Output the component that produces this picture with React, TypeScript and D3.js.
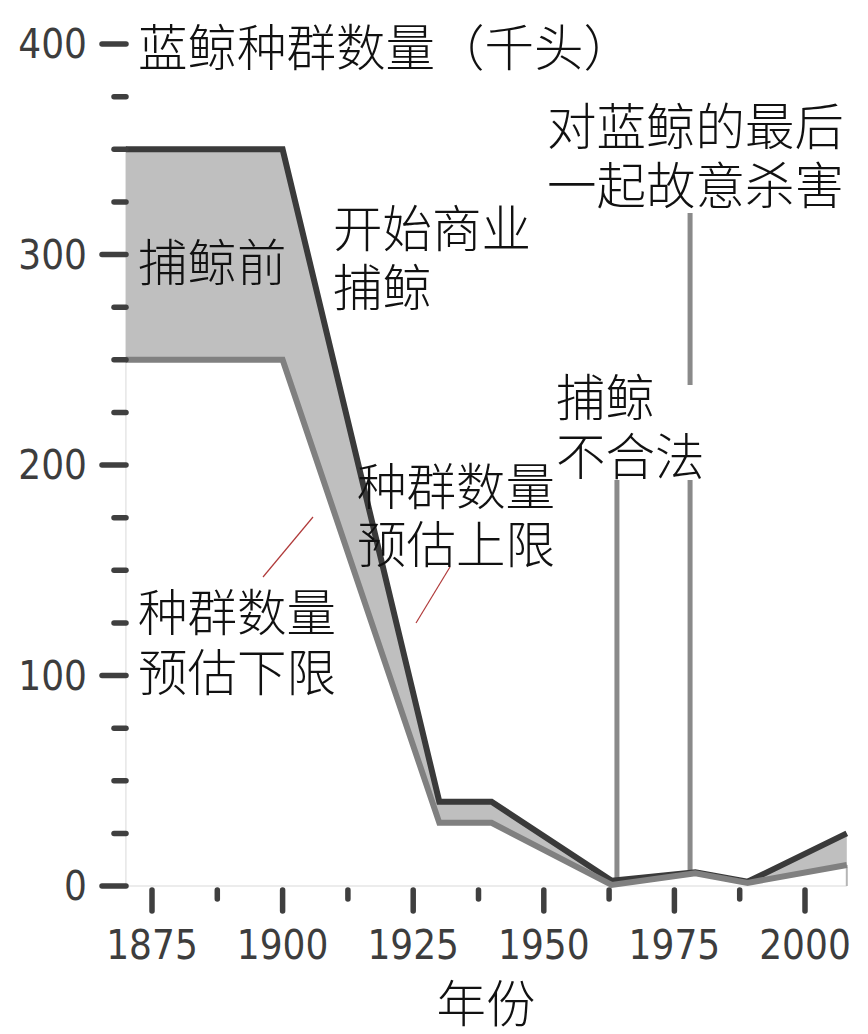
import React from "react";
import * as d3 from "d3";

const upperYears = [1870, 1900, 1930, 1940, 1963, 1979, 1989, 2008];
const upperValues = [350, 350, 40, 40, 2.5, 6.5, 2, 25];
const lowerYears = [1870, 1900, 1930, 1940, 1963, 1979, 1989, 2008];
const lowerValues = [250, 250, 30, 30, 0.5, 6, 1.5, 10];
const majorYTicks = [0, 100, 200, 300, 400];
const minorYTicks = [25, 50, 75, 125, 150, 175, 225, 250, 275, 325, 350, 375];
const majorXTicks = [1875, 1900, 1925, 1950, 1975, 2000];
const minorXTicks = [1887.5, 1912.5, 1937.5, 1962.5, 1987.5];
const eventYears = [1964, 1978];

const W = 868;
const H = 1034;

export default function App() {
  const x = d3.scaleLinear().domain([1875, 2000]).range([152, 805]);
  const y = d3.scaleLinear().domain([0, 400]).range([886, 44]);

  const pts = upperYears.map((yr, i) => ({ yr, hi: upperValues[i], lo: lowerValues[i] }));
  const area = d3
    .area<any>()
    .x((d) => x(d.yr))
    .y0((d) => y(d.lo))
    .y1((d) => y(d.hi))(pts) as string;
  const upperLine = d3
    .line<number>()
    .x((_, i) => x(upperYears[i]))
    .y((d) => y(d))(upperValues) as string;
  const lowerLine = d3
    .line<number>()
    .x((_, i) => x(lowerYears[i]))
    .y((d) => y(d))(lowerValues) as string;

  const x0 = x(upperYears[0]);
  const xEnd = x(upperYears[upperYears.length - 1]);
  const cjk = "'Noto Sans CJK SC', 'Noto Sans', sans-serif";
  const num = "'DejaVu Sans Condensed', 'DejaVu Sans', sans-serif";
  const tickColor = "#3f3f3f";
  const textColor = "#111";

  const lowerAt = (yr: number) => {
    for (let i = 0; i < lowerYears.length - 1; i++) {
      if (yr >= lowerYears[i] && yr <= lowerYears[i + 1]) {
        const t = (yr - lowerYears[i]) / (lowerYears[i + 1] - lowerYears[i]);
        return lowerValues[i] + t * (lowerValues[i + 1] - lowerValues[i]);
      }
    }
    return 0;
  };

  return (
    <svg width={W} height={H} style={{ position: "absolute", left: 0, top: 0, background: "#fff" }}>
      <rect x={0} y={0} width={W} height={H} fill="#fff" />
      <line x1={x0} x2={x0} y1={y(350)} y2={y(0)} stroke="#e6e6e6" strokeWidth={1.5} />
      <line x1={x0} x2={xEnd} y1={y(0)} y2={y(0)} stroke="#e6e6e6" strokeWidth={1.5} />

      <path d={area} fill="#bfbfbf" stroke="none" />
      <line x1={xEnd} x2={xEnd} y1={y(lowerValues[lowerValues.length - 1])} y2={y(0)} stroke="#b5b5b5" strokeWidth={2} />

      <line x1={x(eventYears[0])} x2={x(eventYears[0])} y1={480} y2={y(0) - 2} stroke="#8a8a8a" strokeWidth={5} />
      <line x1={x(eventYears[1])} x2={x(eventYears[1])} y1={213} y2={385} stroke="#8a8a8a" strokeWidth={5} />
      <line x1={x(eventYears[1])} x2={x(eventYears[1])} y1={480} y2={y(lowerAt(eventYears[1]))} stroke="#8a8a8a" strokeWidth={5} />

      <path d={upperLine} fill="none" stroke="#3a3a3a" strokeWidth={6} strokeLinejoin="miter" />
      <path d={lowerLine} fill="none" stroke="#808080" strokeWidth={6} strokeLinejoin="miter" />

      {majorYTicks.map((t) => (
        <g key={"my" + t}>
          <line x1={102} x2={126} y1={y(t)} y2={y(t)} stroke={tickColor} strokeWidth={5.5} strokeLinecap="round" />
          <text x={87} y={y(t)} textAnchor="end" dominantBaseline="central" fontFamily={num} fontSize={40} fill="#3d3d3d">
            {t}
          </text>
        </g>
      ))}
      {minorYTicks.map((t) => (
        <line key={"ny" + t} x1={114} x2={126} y1={y(t)} y2={y(t)} stroke={tickColor} strokeWidth={5.5} strokeLinecap="round" />
      ))}
      {majorXTicks.map((t) => (
        <g key={"mx" + t}>
          <line x1={x(t)} x2={x(t)} y1={890} y2={911} stroke={tickColor} strokeWidth={5.5} strokeLinecap="round" />
          <text x={x(t)} y={945} textAnchor="middle" dominantBaseline="central" fontFamily={num} fontSize={40} fill="#3d3d3d">
            {t}
          </text>
        </g>
      ))}
      {minorXTicks.map((t) => (
        <line key={"nx" + t} x1={x(t)} x2={x(t)} y1={890} y2={899} stroke={tickColor} strokeWidth={5.5} strokeLinecap="round" />
      ))}

      <line x1={263} y1={577} x2={313} y2={517} stroke="#b03a3a" strokeWidth={1.2} />
      <line x1={416} y1={623} x2={450} y2={567} stroke="#b03a3a" strokeWidth={1.2} />

      <g fontFamily={cjk} fontSize={49.5} fontWeight={300} fill={textColor} dominantBaseline="central">
        <text x={138} y={44}>蓝鲸种群数量（千头）</text>
        <text x={138} y={259}>捕鲸前</text>
        <text x={333} y={225}>开始商业</text>
        <text x={333} y={284}>捕鲸</text>
        <text x={547} y={123}>对蓝鲸的最后</text>
        <text x={547} y={182}>一起故意杀害</text>
        <text x={556} y={394}>捕鲸</text>
        <text x={556} y={453}>不合法</text>
        <text x={357} y={483}>种群数量</text>
        <text x={357} y={541}>预估上限</text>
        <text x={138} y={609}>种群数量</text>
        <text x={138} y={669}>预估下限</text>
        <text x={486} y={1000} textAnchor="middle">年份</text>
      </g>
    </svg>
  );
}
